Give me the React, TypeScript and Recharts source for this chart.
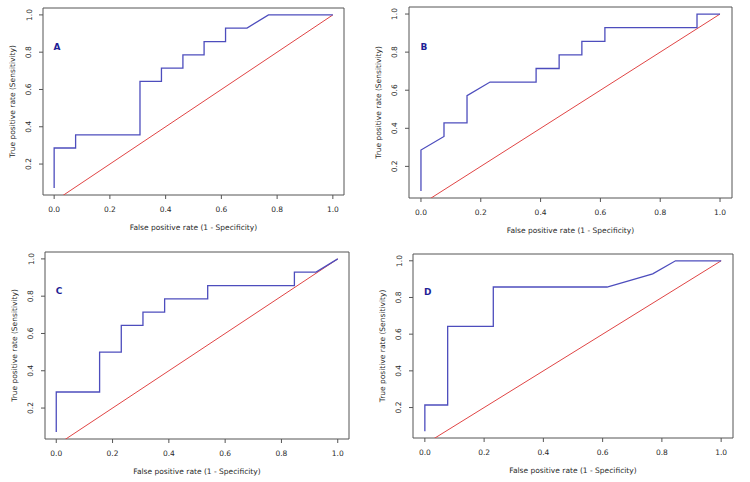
import React from 'react';
import { LineChart, Line, XAxis, YAxis, ReferenceArea, ReferenceDot, Label } from 'recharts';

// ROC points: false positive rate (steps of 1/13) vs true positive rate (steps of 1/14)
const fprA = [0, 0, 0.077, 0.077, 0.308, 0.308, 0.385, 0.385, 0.462, 0.462, 0.538, 0.538, 0.615, 0.615, 0.692, 0.769, 1];
const tprA = [0.071, 0.286, 0.286, 0.357, 0.357, 0.643, 0.643, 0.714, 0.714, 0.786, 0.786, 0.857, 0.857, 0.929, 0.929, 1, 1];

const fprB = [0, 0, 0.077, 0.077, 0.154, 0.154, 0.231, 0.385, 0.385, 0.462, 0.462, 0.538, 0.538, 0.615, 0.615, 0.923, 0.923, 1];
const tprB = [0.071, 0.286, 0.357, 0.429, 0.429, 0.571, 0.643, 0.643, 0.714, 0.714, 0.786, 0.786, 0.857, 0.857, 0.929, 0.929, 1, 1];

const fprC = [0, 0, 0.154, 0.154, 0.231, 0.231, 0.308, 0.308, 0.385, 0.385, 0.538, 0.538, 0.846, 0.846, 0.923, 1];
const tprC = [0.071, 0.286, 0.286, 0.5, 0.5, 0.643, 0.643, 0.714, 0.714, 0.786, 0.786, 0.857, 0.857, 0.929, 0.929, 1];

const fprD = [0, 0, 0.077, 0.077, 0.231, 0.231, 0.615, 0.769, 0.846, 1];
const tprD = [0.071, 0.214, 0.214, 0.643, 0.643, 0.857, 0.857, 0.929, 1, 1];

const diagFpr = [0, 1];
const diagTpr = [0, 1];

const xTicks = [0, 0.2, 0.4, 0.6, 0.8, 1];
const yTicks = [0.2, 0.4, 0.6, 0.8, 1];

const X_DOMAIN: [number, number] = [-0.04, 1.04];
const Y_DOMAIN: [number, number] = [0.034, 1.037];

const FONT = '"DejaVu Sans", sans-serif';
const TEXT = '#2a2a2a';

const toPoints = (fpr: number[], tpr: number[]) => fpr.map((f, i) => ({ fpr: f, tpr: tpr[i] }));
const diagonal = toPoints(diagFpr, diagTpr);

const XTick = (props: any) => {
  const { x, y, payload } = props;
  return (
    <text x={x} y={y + 10} textAnchor="middle" dominantBaseline="central" fontSize={7.5} fontFamily={FONT} fill={TEXT}>
      {payload.value.toFixed(1)}
    </text>
  );
};

const YTick = (props: any) => {
  const { x, y, payload } = props;
  const cx = x - 10;
  return (
    <text x={cx} y={y} transform={`rotate(-90 ${cx} ${y})`} textAnchor="middle" dominantBaseline="central" fontSize={7.5} fontFamily={FONT} fill={TEXT}>
      {payload.value.toFixed(1)}
    </text>
  );
};

interface PanelProps {
  left: number;
  top: number;
  plotWidth: number;
  plotHeight: number;
  letter: string;
  fpr: number[];
  tpr: number[];
}

const Y_AXIS_W = 40;
const X_AXIS_H = 46;
const PAD = 2;

const Panel: React.FC<PanelProps> = ({ left, top, plotWidth, plotHeight, letter, fpr, tpr }) => {
  const width = plotWidth + Y_AXIS_W + PAD;
  const height = plotHeight + PAD + X_AXIS_H;
  return (
    <div style={{ position: 'absolute', left: left - Y_AXIS_W, top: top - PAD }}>
      <LineChart width={width} height={height} margin={{ top: PAD, right: PAD, left: 0, bottom: 0 }}>
        <XAxis
          type="number"
          dataKey="fpr"
          domain={X_DOMAIN}
          ticks={xTicks}
          allowDataOverflow
          height={X_AXIS_H}
          axisLine={false}
          tickSize={4}
          tickMargin={0}
          tickLine={{ stroke: '#555' }}
          tick={<XTick />}
        >
          <Label value="False positive rate (1 - Specificity)" position="insideBottom" offset={11} fontSize={7.5} fontFamily={FONT} fill={TEXT} />
        </XAxis>
        <YAxis
          type="number"
          dataKey="tpr"
          domain={Y_DOMAIN}
          ticks={yTicks}
          allowDataOverflow
          width={Y_AXIS_W}
          axisLine={false}
          tickSize={4}
          tickMargin={0}
          tickLine={{ stroke: '#555' }}
          tick={<YTick />}
        >
          <Label value="True positive rate (Sensitivity)" angle={-90} position="insideLeft" offset={9} style={{ textAnchor: 'middle' }} fontSize={7.5} fontFamily={FONT} fill={TEXT} />
        </YAxis>
        <ReferenceArea x1={X_DOMAIN[0]} x2={X_DOMAIN[1]} y1={Y_DOMAIN[0]} y2={Y_DOMAIN[1]} fill="none" stroke="#555" strokeWidth={1} />
        <Line data={diagonal} dataKey="tpr" type="linear" stroke="#e04545" strokeWidth={1} dot={false} isAnimationActive={false} />
        <Line data={toPoints(fpr, tpr)} dataKey="tpr" type="linear" stroke="#4d4dbd" strokeWidth={1.3} dot={false} isAnimationActive={false} />
        <ReferenceDot
          x={0.01}
          y={0.83}
          r={0}
          fill="none"
          stroke="none"
          label={{ value: letter, position: 'center', fill: '#1f1f96', fontWeight: 'bold', fontSize: 9, fontFamily: FONT }}
        />
      </LineChart>
    </div>
  );
};

export default function App() {
  return (
    <div style={{ position: 'absolute', left: 0, top: 0, width: 750, height: 482, background: '#fff' }}>
      <Panel left={43} top={8} plotWidth={301} plotHeight={187} letter="A" fpr={fprA} tpr={tprA} />
      <Panel left={409} top={7} plotWidth={323} plotHeight={191} letter="B" fpr={fprB} tpr={tprB} />
      <Panel left={45} top={252} plotWidth={304} plotHeight={187} letter="C" fpr={fprC} tpr={tprC} />
      <Panel left={413} top={254} plotWidth={320} plotHeight={184} letter="D" fpr={fprD} tpr={tprD} />
    </div>
  );
}
